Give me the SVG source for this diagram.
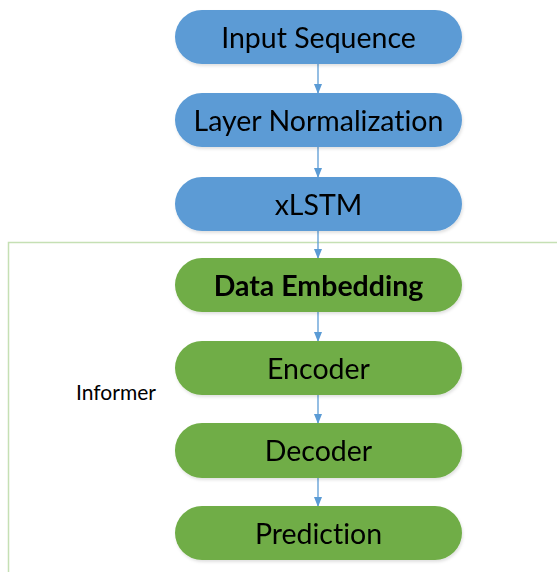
<svg xmlns="http://www.w3.org/2000/svg" width="557" height="572" viewBox="0 0 557 572">
  <style>
    .blue { fill: #5b9bd5; }
    .green { fill: #70ad47; }
    text { font-variant-ligatures: none; }
    .label { font-family: Lato, "Open Sans", sans-serif; font-size: 28.5px; fill: #000; text-anchor: middle; dominant-baseline: central; }
    .bold { font-weight: bold; font-size: 28.5px; }
    .edge { stroke: #5b9bd5; stroke-width: 1.3; fill: none; marker-end: url(#arrow); }
  </style>
  <defs>
    <marker id="arrow" markerWidth="10" markerHeight="8" refX="9" refY="4" orient="auto" markerUnits="userSpaceOnUse">
      <path d="M0,0 L10,4 L0,8 Z" fill="#5b9bd5"/>
    </marker>
    <filter id="shadow" x="-5%" y="-10%" width="110%" height="130%">
      <feDropShadow dx="1" dy="2" stdDeviation="1.5" flood-color="#000" flood-opacity="0.12"/>
    </filter>
  </defs>

  <!-- Informer container -->
  <g id="informer">
    <path d="M557,242.5 H8.5 V572" fill="none" stroke="#c5e0b4" stroke-width="1.5"/>
    <text x="116" y="391" font-family="Lato, 'Open Sans', sans-serif" font-size="21" text-anchor="middle" dominant-baseline="central">Informer</text>
  </g>

  <!-- connectors -->
  <g id="connectors">
    <line class="edge" x1="318" y1="64" x2="318" y2="93"/>
    <line class="edge" x1="318" y1="147" x2="318" y2="177"/>
    <line class="edge" x1="318" y1="231" x2="318" y2="258"/>
    <line class="edge" x1="318" y1="312" x2="318" y2="341"/>
    <line class="edge" x1="318" y1="395" x2="318" y2="423"/>
    <line class="edge" x1="318" y1="478" x2="318" y2="506"/>
  </g>

  <g id="input-sequence" filter="url(#shadow)">
    <rect class="blue" x="175" y="10" width="287" height="54" rx="27"/>
    <text class="label" x="318.5" y="37">Input Sequence</text>
  </g>
  <g id="layer-normalization" filter="url(#shadow)">
    <rect class="blue" x="175" y="93" width="287" height="54" rx="27"/>
    <text class="label" x="318.5" y="120">Layer Normalization</text>
  </g>
  <g id="xlstm" filter="url(#shadow)">
    <rect class="blue" x="175" y="177" width="287" height="54" rx="27"/>
    <text class="label" x="318.5" y="204">xLSTM</text>
  </g>
  <g id="data-embedding" filter="url(#shadow)">
    <rect class="green" x="175" y="258" width="287" height="54" rx="27"/>
    <text class="label bold" x="318.5" y="285">Data Embedding</text>
  </g>
  <g id="encoder" filter="url(#shadow)">
    <rect class="green" x="175" y="341" width="287" height="54" rx="27"/>
    <text class="label" x="318.5" y="368">Encoder</text>
  </g>
  <g id="decoder" filter="url(#shadow)">
    <rect class="green" x="175" y="423" width="287" height="55" rx="27"/>
    <text class="label" x="318.5" y="450">Decoder</text>
  </g>
  <g id="prediction" filter="url(#shadow)">
    <rect class="green" x="175" y="506" width="287" height="54" rx="27"/>
    <text class="label" x="318.5" y="533">Prediction</text>
  </g>
</svg>
